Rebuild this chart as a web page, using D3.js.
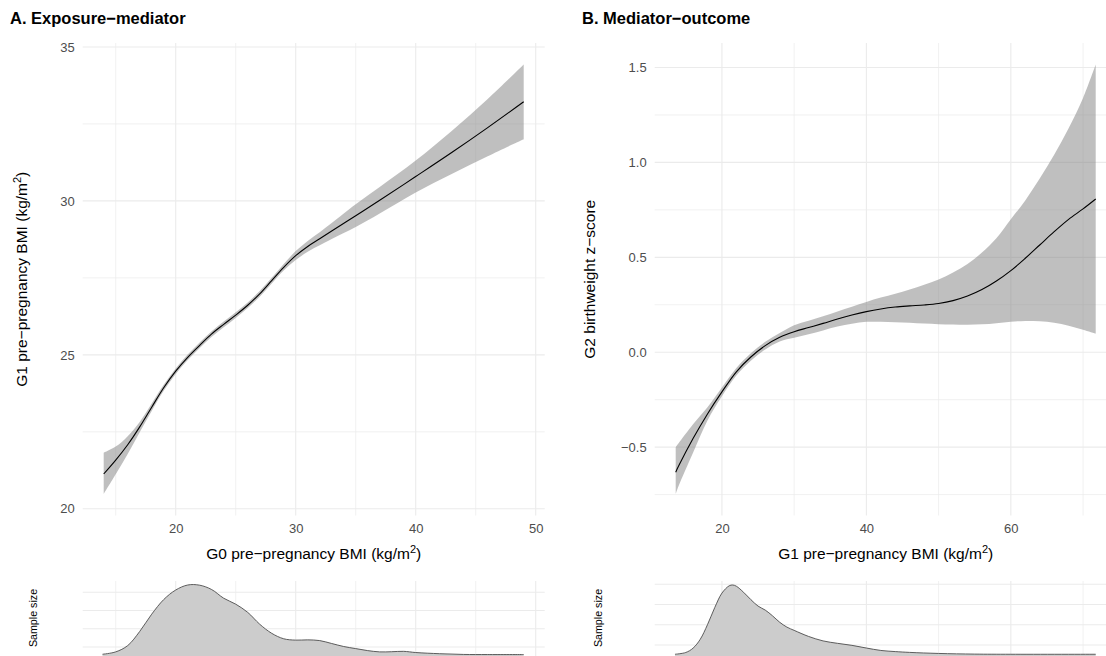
<!DOCTYPE html>
<html>
<head>
<meta charset="utf-8">
<script src="https://cdnjs.cloudflare.com/ajax/libs/d3/7.8.5/d3.min.js"></script>
<style>
body { margin: 0; background: #fff; }
text { font-family: "Liberation Sans", Arial, sans-serif; }
</style>
</head>
<body>
<script>
// A. exposure-mediator smooth (G0 BMI -> G1 BMI)
var bmiA   = [14, 15, 16, 17, 18, 19, 20, 21, 22, 23, 24, 25, 26, 27, 28, 29, 30, 31, 32, 33, 35, 37, 40, 43, 46, 49];
var fitA   = [21.13, 21.58, 22.08, 22.66, 23.30, 23.93, 24.47, 24.92, 25.31, 25.68, 25.99, 26.29, 26.61, 26.98, 27.41, 27.84, 28.22, 28.52, 28.77, 29.02, 29.52, 30.02, 30.79, 31.57, 32.38, 33.22];
var lowerA = [20.48, 21.12, 21.78, 22.49, 23.18, 23.83, 24.38, 24.83, 25.22, 25.59, 25.90, 26.20, 26.52, 26.89, 27.32, 27.74, 28.08, 28.35, 28.56, 28.76, 29.15, 29.59, 30.27, 30.87, 31.45, 32.00];
var upperA = [21.82, 22.02, 22.36, 22.82, 23.42, 24.03, 24.56, 25.01, 25.40, 25.77, 26.08, 26.38, 26.70, 27.07, 27.50, 27.95, 28.37, 28.70, 28.98, 29.28, 29.89, 30.45, 31.31, 32.27, 33.31, 34.43];

// B. mediator-outcome smooth (G1 BMI -> G2 birthweight z)
var bmiB   = [13.6, 14, 16, 18, 20, 22, 24, 26, 28, 30, 32, 34, 36, 38, 40, 42, 44, 46, 48, 50, 52, 54, 56, 58, 60, 62, 64, 66, 68, 70, 71.75];
var fitB   = [-0.632, -0.600, -0.455, -0.325, -0.209, -0.103, -0.025, 0.035, 0.079, 0.108, 0.130, 0.152, 0.175, 0.196, 0.214, 0.228, 0.238, 0.244, 0.249, 0.257, 0.272, 0.296, 0.330, 0.375, 0.430, 0.495, 0.565, 0.635, 0.700, 0.755, 0.807];
var lowerB = [-0.747, -0.705, -0.530, -0.360, -0.232, -0.123, -0.045, 0.015, 0.057, 0.076, 0.095, 0.115, 0.135, 0.150, 0.160, 0.160, 0.158, 0.155, 0.151, 0.148, 0.146, 0.145, 0.147, 0.153, 0.161, 0.165, 0.163, 0.155, 0.140, 0.118, 0.097];
var upperB = [-0.500, -0.480, -0.380, -0.290, -0.186, -0.083, -0.005, 0.055, 0.101, 0.142, 0.166, 0.190, 0.215, 0.240, 0.265, 0.288, 0.308, 0.330, 0.355, 0.383, 0.420, 0.465, 0.525, 0.600, 0.700, 0.800, 0.915, 1.040, 1.180, 1.340, 1.516];

// sample size densities
var densBmiA = [13.9, 15, 16, 17, 18, 19, 20, 21, 22, 23, 24, 25, 26, 27, 28, 29, 30, 31, 32, 33, 34, 35, 36, 37, 38, 39, 40, 42, 44, 46, 49];
var densA    = [0.0120, 0.0146, 0.0215, 0.0370, 0.0560, 0.0720, 0.0825, 0.0880, 0.0878, 0.0830, 0.0735, 0.0670, 0.0580, 0.0450, 0.0350, 0.0290, 0.0275, 0.0278, 0.0270, 0.0238, 0.0205, 0.0182, 0.0160, 0.0146, 0.0148, 0.0152, 0.0139, 0.0126, 0.0118, 0.0117, 0.0117];
var densBmiB = [13.5, 15, 16, 17, 18, 19, 20, 21, 21.5, 22, 23, 24, 25, 26, 27, 28, 29, 30, 32, 34, 36, 38, 40, 42, 44, 46, 50, 55, 60, 71.75];
var densB    = [0.0135, 0.0157, 0.0210, 0.0320, 0.0500, 0.0710, 0.0890, 0.0980, 0.0990, 0.0975, 0.0900, 0.0810, 0.0730, 0.0680, 0.0610, 0.0530, 0.0470, 0.0430, 0.0355, 0.0300, 0.0270, 0.0245, 0.0212, 0.0182, 0.0168, 0.0158, 0.0145, 0.0137, 0.0135, 0.0135];

// ticks
var xTicksA = [20, 30, 40, 50],  xMinorA = [15, 25, 35, 45];
var yTicksA = [20, 25, 30, 35],  yMinorA = [22.5, 27.5, 32.5];
var xTicksB = [20, 40, 60],      xMinorB = [30, 50, 70];
var yTicksB = [-0.5, 0, 0.5, 1, 1.5], yMinorB = [-0.75, -0.25, 0.25, 0.75, 1.25];
var densTicksA = [0, 0.02, 0.04, 0.06, 0.08];
var densTicksB = [0, 0.025, 0.05, 0.075, 0.1];

var W = 1106, H = 656;
var panelW = 462, top1 = 43, bot1 = 515.5, top2 = 581, bot2 = 669.2;
var grid = "#ebebeb";

var svg = d3.select("body").append("svg")
            .attr("width", W)
            .attr("height", H);

function expand(lo, hi) {
  var r = hi - lo;
  return [lo - 0.05 * r, hi + 0.05 * r];
}

function drawPanel(p) {
  var x = d3.scaleLinear()
            .domain(expand(d3.min(p.bmi), d3.max(p.bmi)))
            .range([p.left, p.left + panelW]);
  var y = d3.scaleLinear()
            .domain(expand(d3.min(p.lower), d3.max(p.upper)))
            .range([bot1, top1]);
  var dy = d3.scaleLinear()
             .domain([-0.05 * d3.max(p.dens), 1.05 * d3.max(p.dens)])
             .range([bot2, top2]);

  var g = svg.append("g");

  // gridlines, top panel
  g.append("g").selectAll("line").data(p.yMinor).enter().append("line")
   .attr("x1", p.left).attr("x2", p.left + panelW)
   .attr("y1", y).attr("y2", y)
   .attr("stroke", grid).attr("stroke-width", 0.7);
  g.append("g").selectAll("line").data(p.xMinor).enter().append("line")
   .attr("x1", x).attr("x2", x)
   .attr("y1", top1).attr("y2", bot1)
   .attr("stroke", grid).attr("stroke-width", 0.7);
  g.append("g").selectAll("line").data(p.yTicks).enter().append("line")
   .attr("x1", p.left).attr("x2", p.left + panelW)
   .attr("y1", y).attr("y2", y)
   .attr("stroke", grid).attr("stroke-width", 1.1);
  g.append("g").selectAll("line").data(p.xTicks).enter().append("line")
   .attr("x1", x).attr("x2", x)
   .attr("y1", top1).attr("y2", bot1)
   .attr("stroke", grid).attr("stroke-width", 1.1);

  // gridlines, density panel
  g.append("g").selectAll("line").data(p.densTicks).enter().append("line")
   .attr("x1", p.left).attr("x2", p.left + panelW)
   .attr("y1", dy).attr("y2", dy)
   .attr("stroke", grid).attr("stroke-width", 1.1);
  g.append("g").selectAll("line").data(p.xMinor).enter().append("line")
   .attr("x1", x).attr("x2", x)
   .attr("y1", top2).attr("y2", bot2)
   .attr("stroke", grid).attr("stroke-width", 0.7);
  g.append("g").selectAll("line").data(p.xTicks).enter().append("line")
   .attr("x1", x).attr("x2", x)
   .attr("y1", top2).attr("y2", bot2)
   .attr("stroke", grid).attr("stroke-width", 1.1);

  // ribbon + fit
  var idx = d3.range(p.bmi.length);
  var ribbon = d3.area()
                 .x(function (i) { return x(p.bmi[i]); })
                 .y0(function (i) { return y(p.lower[i]); })
                 .y1(function (i) { return y(p.upper[i]); })
                 .curve(d3.curveCatmullRom);
  var fitLine = d3.line()
                  .x(function (i) { return x(p.bmi[i]); })
                  .y(function (i) { return y(p.fit[i]); })
                  .curve(d3.curveCatmullRom);
  g.append("path").attr("d", ribbon(idx))
   .attr("fill", "#7f7f7f").attr("fill-opacity", 0.5);
  g.append("path").attr("d", fitLine(idx))
   .attr("fill", "none").attr("stroke", "#000").attr("stroke-width", 1.1);

  // density
  var didx = d3.range(p.densBmi.length);
  var densArea = d3.area()
                   .x(function (i) { return x(p.densBmi[i]); })
                   .y0(dy(0))
                   .y1(function (i) { return dy(p.dens[i]); })
                   .curve(d3.curveCatmullRom);
  var densLine = d3.line()
                   .x(function (i) { return x(p.densBmi[i]); })
                   .y(function (i) { return dy(p.dens[i]); })
                   .curve(d3.curveCatmullRom);
  g.append("path").attr("d", densArea(didx)).attr("fill", "#cccccc");
  g.append("path").attr("d", densLine(didx))
   .attr("fill", "none").attr("stroke", "#4d4d4d").attr("stroke-width", 0.9);

  // axes (labels only)
  var yAxis = g.append("g")
               .attr("transform", "translate(" + p.left + ",0)")
               .call(d3.axisLeft(y).tickValues(p.yTicks).tickSize(0).tickPadding(8).tickFormat(p.yFormat));
  var xAxis = g.append("g")
               .attr("transform", "translate(0," + bot1 + ")")
               .call(d3.axisBottom(x).tickValues(p.xTicks).tickSize(0).tickPadding(8).tickFormat(d3.format("d")));
  [yAxis, xAxis].forEach(function (a) {
    a.select(".domain").remove();
    a.selectAll("text")
     .attr("fill", "#4d4d4d")
     .style("font-size", "13px")
     .style("font-family", "'Liberation Sans', Arial, sans-serif");
  });

  // axis titles
  var xt = g.append("text")
            .attr("x", p.left + panelW / 2)
            .attr("y", 558.5)
            .attr("text-anchor", "middle")
            .style("font-size", "15.5px");
  xt.append("tspan").text(p.xTitle + " (kg/m");
  xt.append("tspan").attr("dy", -6).style("font-size", "11px").text("2");
  xt.append("tspan").attr("dy", 6).text(")");

  var yt = g.append("text")
            .attr("transform", "translate(" + p.yTitleX + "," + ((top1 + bot1) / 2) + ") rotate(-90)")
            .attr("text-anchor", "middle")
            .attr("dy", "0.35em")
            .style("font-size", "15.5px");
  if (p.yUnit) {
    yt.append("tspan").text(p.yTitle + " (kg/m");
    yt.append("tspan").attr("dy", -6).style("font-size", "11px").text("2");
    yt.append("tspan").attr("dy", 6).text(")");
  } else {
    yt.text(p.yTitle);
  }

  g.append("text")
   .attr("transform", "translate(" + p.sizeX + ",618) rotate(-90)")
   .attr("text-anchor", "middle")
   .attr("dy", "0.35em")
   .style("font-size", "10.7px")
   .text("Sample size");

  g.append("text")
   .attr("x", p.titleX)
   .attr("y", 24)
   .style("font-size", "16.5px")
   .style("font-weight", "bold")
   .text(p.title);
}

drawPanel({
  left: 82.7, bmi: bmiA, fit: fitA, lower: lowerA, upper: upperA,
  densBmi: densBmiA, dens: densA, densTicks: densTicksA,
  xTicks: xTicksA, xMinor: xMinorA, yTicks: yTicksA, yMinor: yMinorA,
  yFormat: d3.format("d"),
  title: "A. Exposure\u2212mediator", titleX: 10,
  xTitle: "G0 pre\u2212pregnancy BMI", yTitle: "G1 pre\u2212pregnancy BMI", yUnit: true,
  yTitleX: 21.7, sizeX: 33
});

drawPanel({
  left: 654.7, bmi: bmiB, fit: fitB, lower: lowerB, upper: upperB,
  densBmi: densBmiB, dens: densB, densTicks: densTicksB,
  xTicks: xTicksB, xMinor: xMinorB, yTicks: yTicksB, yMinor: yMinorB,
  yFormat: d3.format(".1f"),
  title: "B. Mediator\u2212outcome", titleX: 582,
  xTitle: "G1 pre\u2212pregnancy BMI", yTitle: "G2 birthweight z\u2212score", yUnit: false,
  yTitleX: 590, sizeX: 598.3
});
</script>
</body>
</html>
